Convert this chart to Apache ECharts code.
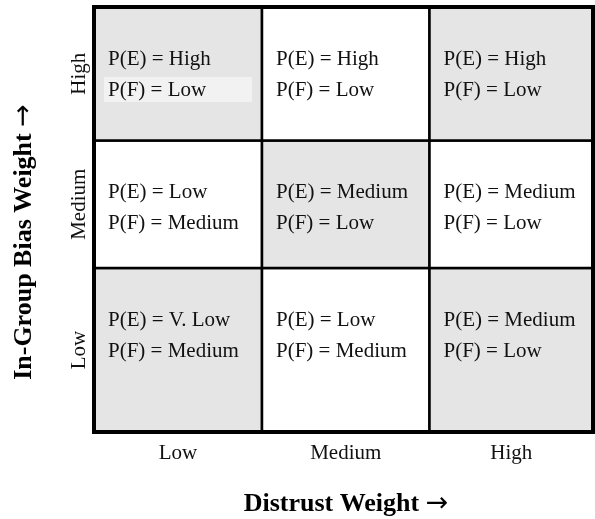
<!DOCTYPE html>
<html>
<head>
<meta charset="utf-8">
<script src="https://cdn.jsdelivr.net/npm/echarts@6/dist/echarts.min.js"></script>
<style>
  html, body { margin: 0; padding: 0; background: #fff; }
  #chart { width: 595px; height: 519px; }
</style>
</head>
<body>
<div id="chart"></div>
<script>
// categories
const distrustLevels = ["Low", "Medium", "High"];   // columns, left to right
const biasLevels = ["Low", "Medium", "High"];       // rows, bottom to top

// cell texts, rows = bias (Low, Medium, High), cols = distrust (Low, Medium, High)
const pE = [
  ["V. Low", "Low", "Medium"],
  ["Low", "Medium", "Medium"],
  ["High", "High", "High"]
];
const pF = [
  ["Medium", "Medium", "Low"],
  ["Medium", "Low", "Low"],
  ["Low", "Low", "Low"]
];

// relative cell sizes as drawn in the figure
const colWidths = [168, 167.5, 163.5];
const rowHeights = [164, 127.5, 133.5];

const GRID = { left: 94, top: 7, width: 499, height: 425 };
const SERIF = "'Liberation Serif', 'DejaVu Serif', serif";

function edges(sizes) {
  const out = [0];
  sizes.forEach(s => out.push(out[out.length - 1] + s));
  return out;
}
const colEdges = edges(colWidths);
const rowEdges = edges(rowHeights);
const colCenters = distrustLevels.map((_, i) => (colEdges[i] + colEdges[i + 1]) / 2);
const rowCenters = biasLevels.map((_, i) => (rowEdges[i] + rowEdges[i + 1]) / 2);

function indexOf(v, e) {
  for (let i = 0; i < e.length - 1; i++) {
    if (v >= e[i] && v < e[i + 1]) return i;
  }
  return e.length - 2;
}

const cells = [];
biasLevels.forEach((_, r) => {
  distrustLevels.forEach((_, c) => cells.push([c, r]));
});

const chart = echarts.init(document.getElementById("chart"));

function renderItem(params, api) {
  const c = api.value(0);
  const r = api.value(1);
  const p0 = api.coord([colEdges[c], rowEdges[r + 1]]);
  const p1 = api.coord([colEdges[c + 1], rowEdges[r]]);
  const left = p0[0], top = p0[1];
  const w = p1[0] - p0[0], h = p1[1] - p0[1];
  const shaded = (c + r) % 2 === 0;
  const children = [{
    type: "rect",
    shape: { x: left, y: top, width: w, height: h },
    style: { fill: shaded ? "#e5e5e5" : "#ffffff", stroke: "#000", lineWidth: 2.5 }
  }];
  // light box behind the second line of the top-left cell
  if (c === 0 && r === biasLevels.length - 1) {
    children.push({
      type: "rect",
      shape: { x: left + 10, y: top + 70, width: 148, height: 25 },
      style: { fill: "#f2f2f2" }
    });
  }
  const textStyle = { font: "21px " + SERIF, fill: "#111", align: "left", verticalAlign: "middle" };
  children.push({
    type: "text", x: left + 14, y: top + 52,
    style: Object.assign({ text: "P(E) = " + pE[r][c] }, textStyle)
  });
  children.push({
    type: "text", x: left + 14, y: top + 83,
    style: Object.assign({ text: "P(F) = " + pF[r][c] }, textStyle)
  });
  return { type: "group", children: children };
}

const titleRich = {
  t: { fontFamily: SERIF, fontWeight: "bold", fontSize: 26, color: "#000" },
  a: { fontFamily: "'DejaVu Sans', sans-serif", fontSize: 27, color: "#000" }
};

const option = {
  animation: false,
  grid: GRID,
  xAxis: {
    type: "value",
    min: 0,
    max: colEdges[colEdges.length - 1],
    axisLine: { show: false },
    axisTick: { show: false },
    splitLine: { show: false },
    axisLabel: {
      customValues: colCenters,
      margin: 11,
      fontFamily: SERIF,
      fontSize: 21,
      color: "#111",
      formatter: v => distrustLevels[indexOf(v, colEdges)]
    }
  },
  yAxis: {
    type: "value",
    min: 0,
    max: rowEdges[rowEdges.length - 1],
    axisLine: { show: false },
    axisTick: { show: false },
    splitLine: { show: false },
    axisLabel: {
      customValues: rowCenters,
      rotate: 90,
      margin: 4,
      fontFamily: SERIF,
      fontSize: 21,
      color: "#111",
      formatter: v => biasLevels[indexOf(v, rowEdges)]
    }
  },
  series: [{
    type: "custom",
    renderItem: renderItem,
    data: cells
  }],
  graphic: [
    {
      type: "rect",
      z: 100,
      shape: { x: GRID.left, y: GRID.top, width: GRID.width, height: GRID.height },
      style: { fill: "none", stroke: "#000", lineWidth: 4 }
    },
    {
      type: "text",
      x: 346, y: 504,
      style: { text: "{t|Distrust Weight }{a|\u2192}", rich: titleRich, align: "center", verticalAlign: "middle" }
    },
    {
      type: "text",
      x: 24, y: 242,
      rotation: Math.PI / 2,
      style: { text: "{t|In-Group Bias Weight }{a|\u2192}", rich: titleRich, align: "center", verticalAlign: "middle" }
    }
  ]
};

chart.setOption(option);
</script>
</body>
</html>
